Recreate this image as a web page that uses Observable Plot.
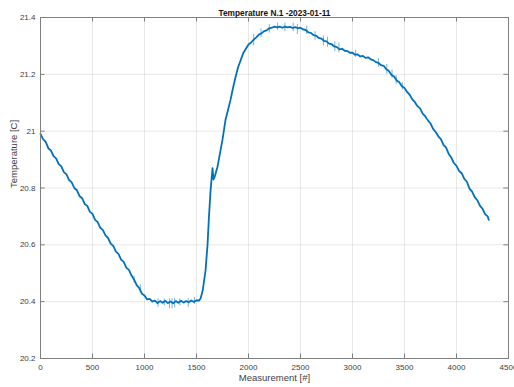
<!DOCTYPE html>
<html>
<head>
<meta charset="utf-8">
<script src="https://cdn.jsdelivr.net/npm/d3@7"></script>
<script src="https://cdn.jsdelivr.net/npm/@observablehq/plot@0.6"></script>
<style>
  html, body { margin: 0; padding: 0; background: #fff; }
  #chart svg { display: block; }
</style>
</head>
<body>
<div id="chart"></div>
<script>
const titleText = "Temperature N.1 -2023-01-11";
const xLabel = "Measurement [#]";
const yLabel = "Temperature [C]";
const xTicks = [0, 500, 1000, 1500, 2000, 2500, 3000, 3500, 4000, 4500];
const yTicks = [20.2, 20.4, 20.6, 20.8, 21.0, 21.2, 21.4];
const yTickLabels = ["20.2", "20.4", "20.6", "20.8", "21", "21.2", "21.4"];

const measurement = [
  0, 25, 50, 75, 100, 125, 150, 175, 200, 225, 250, 275, 300, 325, 350, 375, 400, 425, 450, 475,
  500, 525, 550, 575, 600, 625, 650, 675, 700, 725, 750, 775, 800, 825, 850, 875, 900, 925, 950, 975,
  1000, 1025, 1050, 1075, 1100, 1125, 1150, 1175, 1200, 1225, 1250, 1275, 1300, 1325, 1350, 1375, 1400, 1425, 1450, 1475,
  1500, 1525, 1540, 1560, 1587, 1606, 1620, 1635, 1654, 1663, 1675, 1702, 1725, 1750, 1779, 1800, 1827, 1850, 1875, 1900,
  1925, 1950, 1975, 2000, 2025, 2050, 2075, 2100, 2125, 2150, 2175, 2200, 2225, 2250, 2275, 2300, 2325, 2350, 2375, 2400,
  2425, 2450, 2475, 2500, 2525, 2550, 2575, 2600, 2625, 2650, 2675, 2700, 2725, 2750, 2775, 2800, 2825, 2850, 2875, 2900,
  2925, 2950, 2975, 3000, 3025, 3050, 3075, 3100, 3125, 3150, 3175, 3200, 3225, 3250, 3275, 3300, 3325, 3350, 3375, 3400,
  3425, 3450, 3475, 3500, 3525, 3550, 3575, 3600, 3625, 3650, 3675, 3700, 3725, 3750, 3775, 3800, 3825, 3850, 3875, 3900,
  3925, 3950, 3975, 4000, 4025, 4050, 4075, 4100, 4125, 4150, 4175, 4200, 4225, 4250, 4275, 4300, 4310
];
const temperature = [
  20.990, 20.972, 20.962, 20.940, 20.932, 20.912, 20.904, 20.884, 20.876, 20.856, 20.848, 20.828, 20.820, 20.800, 20.792, 20.772, 20.764, 20.744, 20.737, 20.716,
  20.709, 20.688, 20.680, 20.660, 20.652, 20.633, 20.624, 20.604, 20.596, 20.576, 20.568, 20.548, 20.540, 20.520, 20.512, 20.492, 20.478, 20.458, 20.448, 20.428,
  20.422, 20.408, 20.410, 20.400, 20.404, 20.395, 20.402, 20.396, 20.403, 20.395, 20.401, 20.394, 20.402, 20.396, 20.403, 20.397, 20.402, 20.398, 20.404, 20.399,
  20.405, 20.404, 20.412, 20.440, 20.510, 20.600, 20.700, 20.790, 20.870, 20.830, 20.840, 20.875, 20.920, 20.970, 21.040, 21.070, 21.110, 21.150, 21.190, 21.225,
  21.250, 21.275, 21.290, 21.305, 21.312, 21.322, 21.330, 21.340, 21.344, 21.352, 21.355, 21.362, 21.364, 21.368, 21.365, 21.368, 21.364, 21.368, 21.365, 21.367,
  21.363, 21.366, 21.362, 21.364, 21.358, 21.356, 21.348, 21.346, 21.338, 21.336, 21.328, 21.326, 21.318, 21.316, 21.308, 21.306, 21.298, 21.296, 21.288, 21.290,
  21.283, 21.282, 21.276, 21.276, 21.269, 21.270, 21.263, 21.265, 21.258, 21.260, 21.253, 21.250, 21.243, 21.240, 21.232, 21.230, 21.218, 21.212, 21.198, 21.192,
  21.178, 21.172, 21.158, 21.152, 21.138, 21.128, 21.112, 21.102, 21.088, 21.080, 21.062, 21.052, 21.038, 21.027, 21.008, 20.997, 20.982, 20.972, 20.952, 20.942,
  20.920, 20.907, 20.888, 20.878, 20.860, 20.852, 20.832, 20.822, 20.798, 20.787, 20.768, 20.757, 20.738, 20.727, 20.708, 20.700, 20.688
];

// short vertical noise excursions visible in the trace
const spikeX    = [900, 960, 1130, 1190, 1240, 1265, 1290, 1340, 1420, 1480, 2050, 2120, 2200, 2280, 2350, 2430, 2470, 2560, 2640, 2720, 2760, 2830, 2870, 3030, 3250, 3330, 3380, 3420, 3480];
const spikeLow  = [20.465, 20.430, 20.380, 20.385, 20.375, 20.375, 20.378, 20.385, 20.380, 20.390, 21.300, 21.330, 21.345, 21.355, 21.350, 21.350, 21.340, 21.340, 21.320, 21.300, 21.295, 21.280, 21.275, 21.260, 21.225, 21.200, 21.185, 21.165, 21.145];
const spikeHigh = [20.490, 20.460, 20.410, 20.410, 20.410, 20.410, 20.412, 20.410, 20.410, 20.415, 21.340, 21.360, 21.375, 21.380, 21.380, 21.380, 21.375, 21.370, 21.350, 21.335, 21.330, 21.315, 21.310, 21.285, 21.255, 21.235, 21.215, 21.195, 21.170];

const series = measurement.map((m, i) => ({x: m, y: temperature[i]}));
const spikes = spikeX.map((s, i) => ({x: s, lo: spikeLow[i], hi: spikeHigh[i]}));

const blue = "#0072BD";
const axisColor = "#808080";
const textColor = "#404040";
const xDom = [0, 4500], yDom = [20.2, 21.4];
const tx = 45, ty = 0.016;

const chart = Plot.plot({
  width: 514,
  height: 387,
  marginLeft: 40,
  marginRight: 6,
  marginTop: 17,
  marginBottom: 29,
  style: {fontFamily: "'Liberation Sans', Arial, sans-serif", fontSize: "8px", color: textColor, background: "#fff"},
  x: {domain: xDom, axis: null},
  y: {domain: yDom, axis: null},
  marks: [
    Plot.ruleX(xTicks, {x: d => d, stroke: "#000", strokeOpacity: 0.09}),
    Plot.ruleY(yTicks, {y: d => d, stroke: "#000", strokeOpacity: 0.09}),
    Plot.ruleX(spikes, {x: "x", y1: "lo", y2: "hi", stroke: blue, strokeOpacity: 0.55, strokeWidth: 1}),
    Plot.line(series, {x: "x", y: "y", stroke: blue, strokeWidth: 1.8, strokeLinejoin: "round"}),
    Plot.frame({stroke: axisColor, strokeWidth: 1}),
    // inward ticks (bottom, top, left, right)
    Plot.ruleX(xTicks, {x: d => d, y1: yDom[0], y2: yDom[0] + ty, stroke: axisColor}),
    Plot.ruleX(xTicks, {x: d => d, y1: yDom[1], y2: yDom[1] - ty, stroke: axisColor}),
    Plot.ruleY(yTicks, {y: d => d, x1: xDom[0], x2: xDom[0] + tx, stroke: axisColor}),
    Plot.ruleY(yTicks, {y: d => d, x1: xDom[1], x2: xDom[1] - tx, stroke: axisColor}),
    // tick labels
    Plot.text(xTicks, {x: d => d, y: yDom[0], text: d => String(d), dy: 9, fill: textColor, fontSize: 8}),
    Plot.text(yTicks, {x: xDom[0], y: d => d, text: (d, i) => yTickLabels[i], dx: -5, textAnchor: "end", fill: textColor, fontSize: 8}),
    // axis labels and title
    Plot.text([xLabel], {frameAnchor: "bottom", dy: 22, fill: textColor, fontSize: 9.5}),
    Plot.text([yLabel], {frameAnchor: "left", dx: -27, rotate: -90, fill: textColor, fontSize: 9.5}),
    Plot.text([titleText], {frameAnchor: "top", dy: -7, fill: "#111", fontSize: 8.3, fontWeight: "bold"})
  ]
});
document.getElementById("chart").appendChild(chart);
</script>
</body>
</html>
